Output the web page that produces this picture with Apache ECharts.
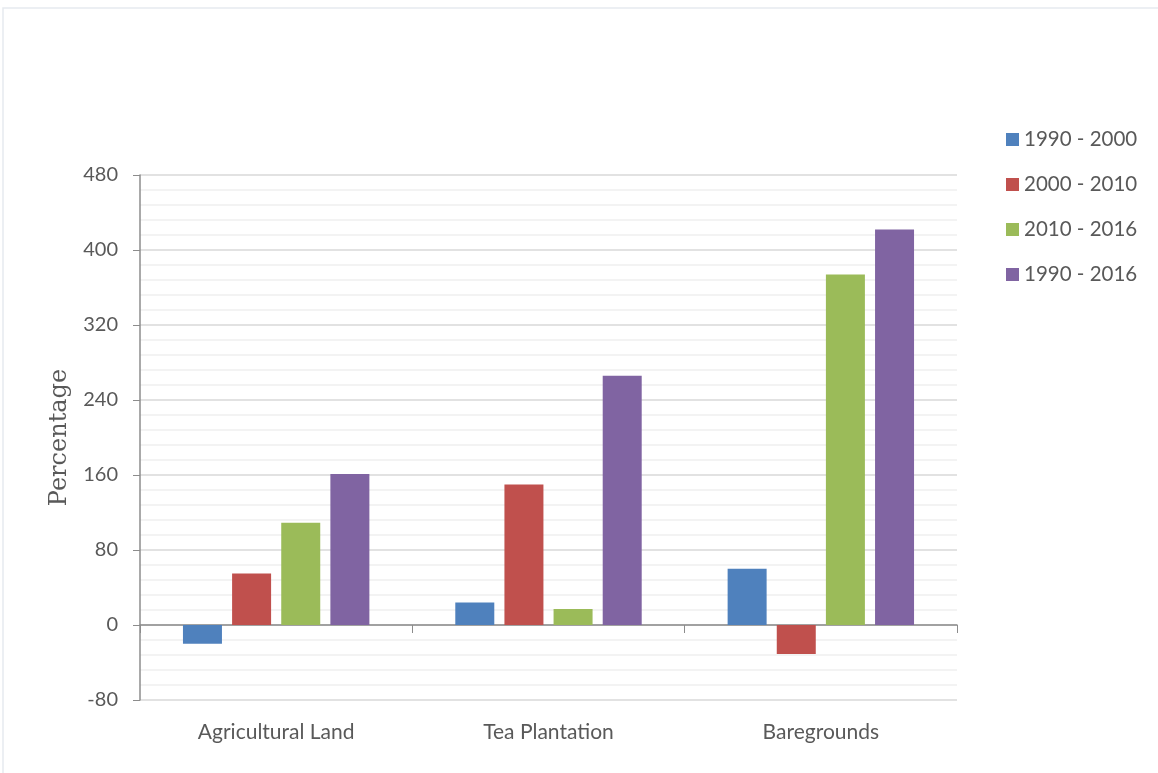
<!DOCTYPE html>
<html>
<head>
<meta charset="utf-8">
<script src="https://cdn.jsdelivr.net/npm/echarts@6/dist/echarts.min.js"></script>
<style>
    html, body { margin: 0; padding: 0; background: #fff; }
    #main { width: 1158px; height: 773px; }
</style>
</head>
<body>
<div id="main"></div>
<script>
// 类别
var categories = ['Agricultural Land', 'Tea Plantation', 'Baregrounds'];
// 图例
var seriesNames = ['1990 - 2000', '2000 - 2010', '2010 - 2016', '1990 - 2016'];
// 数据
var period1 = [-20, 24, 60];
var period2 = [55, 150, -31];
var period3 = [109, 17, 374];
var period4 = [161, 266, 422];
// y轴刻度
var yMin = -80;
var yMax = 480;
var yStep = 80;

var colors = ['#4f81bd', '#c0504d', '#9bbb59', '#8064a2'];
var allData = [period1, period2, period3, period4];

var chart = document.getElementById('main');
var echart = echarts.init(chart);

var seriesList = [];
for (let i = 0; i < seriesNames.length; i++) {
    seriesList.push({
        name: seriesNames[i],
        type: 'bar',
        data: allData[i],
        barWidth: 39,
        barGap: '26%',
        itemStyle: {color: colors[i]}
    });
}

let option = {
    animation: false,
    textStyle: {fontFamily: 'Lato'},
    graphic: [{
        type: 'rect',
        shape: {x: 3, y: 8, width: 1170, height: 780},
        style: {fill: 'none', stroke: '#e6eaef', lineWidth: 1.5},
        silent: true
    }],
    legend: {
        orient: 'vertical',
        left: 1001,
        top: 124,
        itemWidth: 13,
        itemHeight: 13,
        itemGap: 24,
        icon: 'rect',
        data: seriesNames,
        textStyle: {fontSize: 20.5, color: '#595959', fontFamily: 'Lato'}
    },
    grid: {left: 140, right: 201, top: 175, bottom: 73, containLabel: false, outerBoundsMode: 'none'},
    xAxis: [
        {
            // 零线和刻度
            type: 'category',
            data: categories,
            axisLine: {onZero: true, lineStyle: {color: '#8c8c8c', width: 1.5}},
            axisTick: {show: true, length: 8, inside: false, lineStyle: {color: '#8c8c8c'}},
            axisLabel: {show: false}
        },
        {
            // 底部标签
            type: 'category',
            data: categories,
            position: 'bottom',
            axisLine: {show: false, onZero: false},
            axisTick: {show: false},
            axisLabel: {fontSize: 21, color: '#595959', margin: 22, fontFamily: 'Lato'}
        }
    ],
    yAxis: [{
        type: 'value',
        min: yMin,
        max: yMax,
        interval: yStep,
        name: 'Percentage',
        nameLocation: 'middle',
        nameGap: 68,
        nameTextStyle: {fontSize: 24, color: '#595959', fontFamily: 'DejaVu Serif'},
        axisLine: {show: true, lineStyle: {color: '#8c8c8c', width: 1.5}},
        axisTick: {show: true, length: 7, lineStyle: {color: '#8c8c8c'}},
        axisLabel: {fontSize: 20, color: '#595959', margin: 22, fontFamily: 'Lato'},
        splitLine: {lineStyle: {color: '#d9d9d9', width: 1.5}},
        minorTick: {show: false, splitNumber: 5},
        minorSplitLine: {show: true, lineStyle: {color: '#f0f0f0', width: 1.5}}
    }],
    series: seriesList
};
echart.setOption(option);
</script>
</body>
</html>
